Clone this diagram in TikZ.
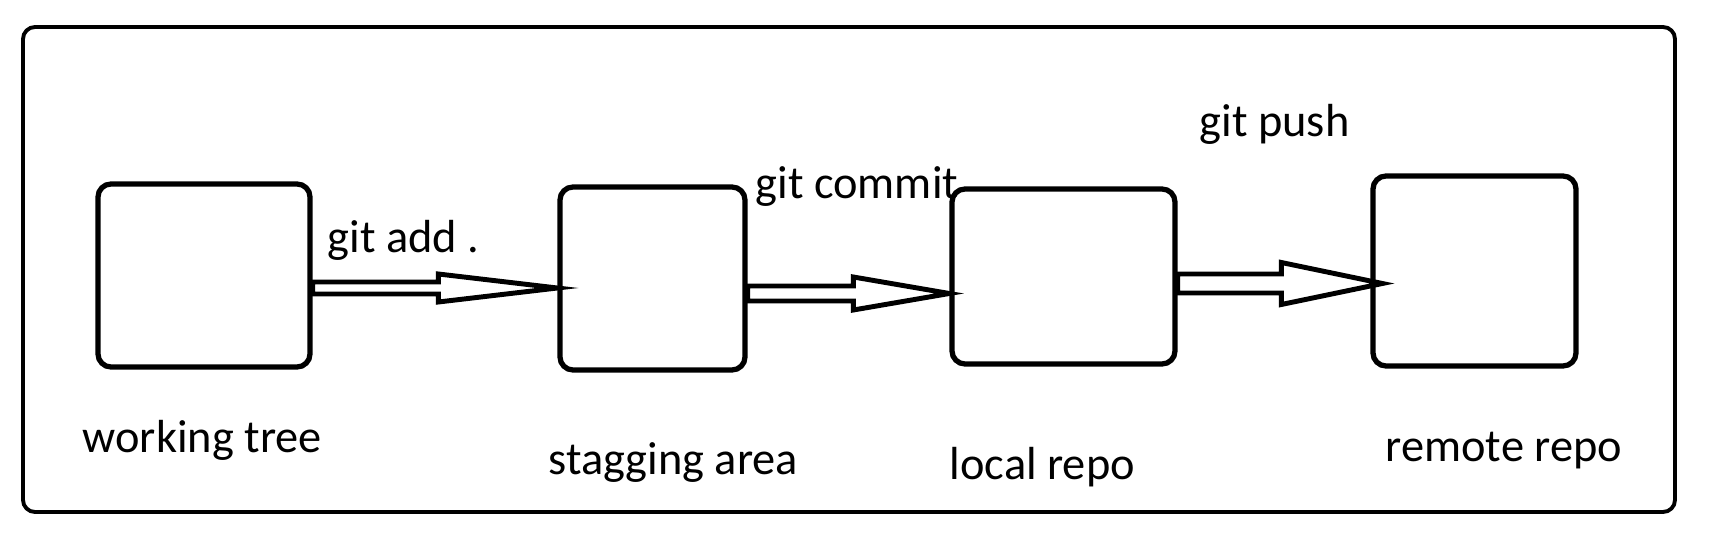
\documentclass[tikz,border=0pt]{standalone}
\usepackage{fontspec}
\setmainfont{Carlito}
\usepackage{tikz}
\usetikzlibrary{calc}
\tikzset{box/.style={draw, line width=1.5pt, rounded corners=0.13cm, inner sep=0pt},
         blockarrow/.style={draw, fill=white, line width=1.4pt},
         lbl/.style={anchor=base west, inner sep=0pt, font=\fontsize{13.2}{16}\selectfont}}

% from node, tip point, y shift, shaft half, head half, head length
\newcommand{\gitarrow}[6]{%
  \draw[blockarrow] let \p1=($(#1.east)+(0,#3)$), \p2=(#2) in
    (\x1,\y1+#4cm) -- (\x2-#6cm,\y1+#4cm) -- (\x2-#6cm,\y1+#5cm) -- (\x2,\y1)
    -- (\x2-#6cm,\y1-#5cm) -- (\x2-#6cm,\y1-#4cm) -- (\x1,\y1-#4cm) -- cycle;}

\begin{document}
\begin{tikzpicture}
\useasboundingbox (0,0) rectangle (17.17,-5.46);
\draw[line width=1.1pt, rounded corners=0.12cm] (0.23,-0.27) rectangle (16.75,-5.12);

\node[box, minimum width=2.12cm, minimum height=1.83cm] (1) at (2.04,-2.755)   {};
\node[box, minimum width=1.85cm, minimum height=1.83cm] (2) at (6.525,-2.785)  {};
\node[box, minimum width=2.23cm, minimum height=1.75cm] (3) at (10.635,-2.765) {};
\node[box, minimum width=2.03cm, minimum height=1.90cm] (4) at (14.745,-2.71)  {};

\gitarrow{1}{2.west}{-0.125}{0.06}{0.14}{1.19}
\gitarrow{2}{3.west}{-0.15}{0.075}{0.165}{0.96}
\gitarrow{3}{$(4.west)+(0.12,0)$}{-0.07}{0.095}{0.21}{1.01}

\node[lbl] (add)    at (3.27,-2.53)  {git add .};
\node[lbl] (commit) at (7.55,-1.99)  {git commit};
\node[lbl] (push)   at (11.99,-1.37) {git push};

\node[lbl] (wt) at (0.82,-4.53)  {working tree};
\node[lbl] (sa) at (5.48,-4.75)  {stagging area};
\node[lbl] (lr) at (9.49,-4.80)  {local repo};
\node[lbl] (rr) at (13.85,-4.62) {remote repo};
\end{tikzpicture}
\end{document}
